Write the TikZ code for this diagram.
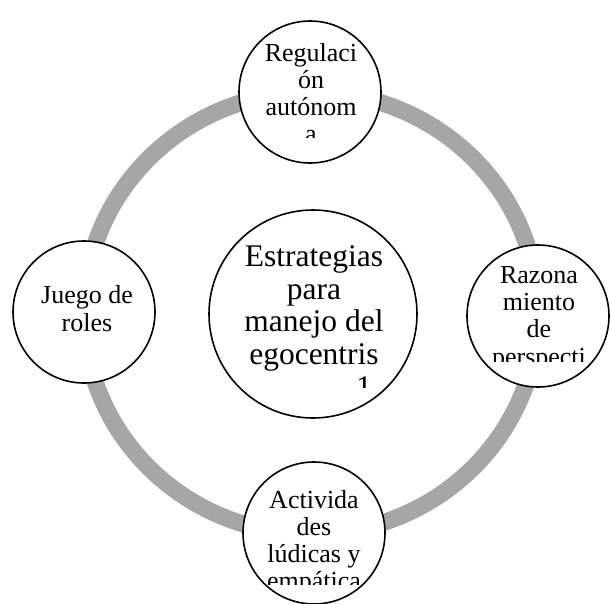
\documentclass[tikz,border=0pt]{standalone}
\usepackage{fontspec}
\setmainfont{Liberation Serif}
\definecolor{ringgray}{HTML}{A6A6A6}
\begin{document}
\begin{tikzpicture}[x=1pt,y=-1pt,
  circ/.style={circle,draw=black,line width=1.6pt,fill=white,inner sep=0pt},
  outer/.style={circ,minimum size=142pt},
  lbl/.style={anchor=base,inner sep=0pt,font=\fontsize{26}{27}\selectfont},
  biglbl/.style={anchor=base,inner sep=0pt,font=\fontsize{31.5}{32}\selectfont}]
\useasboundingbox (0,0) rectangle (611,603);
\coordinate (ringc) at (311,313);
\draw[ringgray,line width=17pt] (ringc) ellipse [x radius=227, y radius=221];
\node[outer] (top) at (310,92) {};
\node[outer] (right) at (538,316) {};
\node[outer] (bottom) at (314,533) {};
\node[outer] (left) at (84,312) {};
\node[circ,minimum size=208pt] (center) at (313,314) {};
% top text
\begin{scope}
\clip (230,0) rectangle (390,137);
\node[lbl] (t1) at (311,61.7) {Regulaci};
\node[lbl] (t2) at (311,88.5) {ón};
\node[lbl] (t3) at (311,115.3) {autónom};
\node[lbl] (t4) at (311,142) {a};
\end{scope}
% right text
\begin{scope}
\clip (460,240) rectangle (611,361.7);
\node[lbl] (r1) at (539,283.3) {Razona};
\node[lbl] (r2) at (539,310.5) {miento};
\node[lbl] (r3) at (539,337.7) {de};
\node[lbl] (r4) at (539,365) {perspecti};
\end{scope}
% bottom text
\begin{scope}
\clip (240,460) rectangle (390,584);
\node[lbl] (b1) at (314,508) {Activida};
\node[lbl] (b2) at (314,535) {des};
\node[lbl] (b3) at (314,562) {lúdicas y};
\node[lbl] (b4) at (314,589) {empática};
\end{scope}
% left text
\node[lbl] (l1) at (87,303) {Juego de};
\node[lbl] (l2) at (87,331) {roles};
% center text
\begin{scope}
\clip (205,200) rectangle (420,387);
\node[biglbl] (c1) at (314,266.5) {Estrategias};
\node[biglbl] (c2) at (314,299) {para};
\node[biglbl] (c3) at (314,331.5) {manejo del};
\node[biglbl] (c4) at (314,364.5) {egocentris};
\node[biglbl] (c5) at (364,397) {1};
\end{scope}
\end{tikzpicture}
\end{document}
